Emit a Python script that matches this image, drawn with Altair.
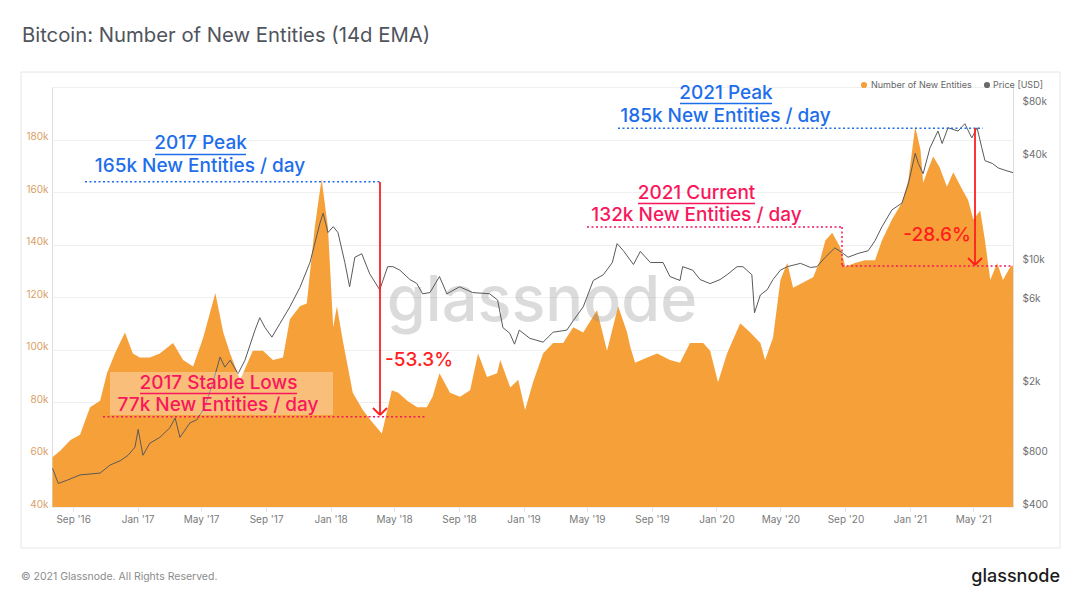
import altair as alt
import pandas as pd

# ---------------- data ----------------
ent_dates = [
    "2016-07-24", "2016-08-08", "2016-08-27", "2016-09-14", "2016-10-03", "2016-10-22",
    "2016-11-04", "2016-11-19", "2016-12-08", "2016-12-23", "2017-01-05", "2017-01-24",
    "2017-02-12", "2017-03-09", "2017-03-28", "2017-04-16", "2017-05-05", "2017-05-28",
    "2017-06-12", "2017-06-25", "2017-07-14", "2017-08-07", "2017-08-26", "2017-09-14",
    "2017-10-03", "2017-10-16", "2017-11-04", "2017-11-17", "2017-12-02", "2017-12-15",
    "2017-12-27", "2018-01-06", "2018-01-13", "2018-01-24", "2018-02-12", "2018-03-03",
    "2018-03-22", "2018-04-08", "2018-04-27", "2018-05-09", "2018-05-26", "2018-06-14",
    "2018-07-02", "2018-07-13", "2018-07-26", "2018-08-15", "2018-09-03", "2018-09-22",
    "2018-10-07", "2018-10-24", "2018-11-12", "2018-11-18", "2018-12-07", "2018-12-22",
    "2019-01-04", "2019-01-19", "2019-02-07", "2019-02-26", "2019-03-17", "2019-04-05",
    "2019-04-24", "2019-05-20", "2019-06-08", "2019-06-29", "2019-07-16", "2019-07-22",
    "2019-07-31", "2019-08-23", "2019-09-11", "2019-10-05", "2019-10-24", "2019-11-12",
    "2019-12-07", "2019-12-20", "2020-01-04", "2020-01-21", "2020-02-15", "2020-03-05",
    "2020-03-24", "2020-04-02", "2020-04-17", "2020-05-01", "2020-05-14", "2020-05-25",
    "2020-06-13", "2020-07-02", "2020-07-15", "2020-07-25", "2020-08-07", "2020-08-22",
    "2020-09-01", "2020-09-19", "2020-10-08", "2020-10-27", "2020-11-09", "2020-11-28",
    "2020-12-17", "2020-12-29", "2021-01-11", "2021-01-21", "2021-01-26", "2021-02-04",
    "2021-02-14", "2021-02-26", "2021-03-12", "2021-03-24", "2021-04-10", "2021-04-21",
    "2021-05-01", "2021-05-14", "2021-05-23", "2021-06-02", "2021-06-15", "2021-06-26",
    "2021-07-10", "2021-07-15",
]
ent_values_k = [
    59, 61.5, 65.5, 67.5, 78, 80.5,
    91, 98.5, 106.5, 98.5, 97, 97,
    98.5, 102.5, 96, 93.5, 104.5, 121.5,
    106.5, 98.5, 88.5, 99.5, 99.5, 96,
    97, 111.5, 116.5, 117.5, 146.5, 165,
    146.5, 108.5, 116.5, 103.5, 83.5, 77,
    72, 68, 84.5, 83.5, 80.5, 78,
    78, 82, 91, 83.5, 82, 84.5,
    98.5, 89.5, 91, 96, 85.5, 88.5,
    77, 87.5, 98.5, 102.5, 102.5, 108.5,
    106.5, 115, 99.5, 116.5, 106.5, 101,
    95, 97, 98.5, 96, 95, 102.5,
    102.5, 99.5, 87.5, 98.5, 110, 106.5,
    102.5, 96, 104.5, 126.5, 133, 123.5,
    125.5, 127.5, 134, 141.5, 144.5, 139,
    131.5, 133, 134, 134, 141.5, 149.5,
    156, 164.5, 185, 176, 163.5, 168.5,
    173.5, 169.5, 162, 167.5, 161, 157,
    149.5, 153, 141.5, 126.5, 133, 126.5,
    131.5, 132,
]

price_dates = [
    "2016-07-24", "2016-08-04", "2016-08-21", "2016-09-14", "2016-10-22", "2016-11-10",
    "2016-11-29", "2016-12-14", "2016-12-27", "2017-01-02", "2017-01-11", "2017-01-24",
    "2017-02-12", "2017-03-03", "2017-03-13", "2017-03-22", "2017-04-10", "2017-04-23",
    "2017-05-08", "2017-05-23", "2017-06-06", "2017-06-15", "2017-06-25", "2017-07-10",
    "2017-07-23", "2017-08-11", "2017-08-20", "2017-08-30", "2017-09-12", "2017-09-27",
    "2017-10-16", "2017-11-04", "2017-11-23", "2017-12-12", "2017-12-18", "2017-12-27",
    "2018-01-06", "2018-01-15", "2018-01-28", "2018-02-06", "2018-02-16", "2018-03-01",
    "2018-03-16", "2018-04-04", "2018-04-19", "2018-04-29", "2018-05-12", "2018-05-31",
    "2018-06-13", "2018-06-24", "2018-07-08", "2018-07-26", "2018-08-09", "2018-09-02",
    "2018-09-27", "2018-10-29", "2018-11-13", "2018-11-23", "2018-12-06", "2018-12-15",
    "2018-12-24", "2019-01-13", "2019-02-07", "2019-02-26", "2019-03-24", "2019-04-05",
    "2019-04-24", "2019-05-13", "2019-06-01", "2019-06-18", "2019-06-27", "2019-07-09",
    "2019-07-28", "2019-08-10", "2019-08-29", "2019-09-22", "2019-10-05", "2019-10-24",
    "2019-10-29", "2019-11-17", "2019-12-01", "2019-12-20", "2020-01-08", "2020-01-21",
    "2020-02-09", "2020-02-20", "2020-03-08", "2020-03-13", "2020-03-24", "2020-04-06",
    "2020-04-17", "2020-05-01", "2020-05-14", "2020-06-08", "2020-06-27", "2020-07-09",
    "2020-07-25", "2020-08-12", "2020-08-26", "2020-09-06", "2020-09-25", "2020-10-14",
    "2020-10-27", "2020-11-09", "2020-11-28", "2020-12-17", "2020-12-29", "2021-01-11",
    "2021-01-17", "2021-01-26", "2021-02-08", "2021-02-23", "2021-03-03", "2021-03-14",
    "2021-04-02", "2021-04-15", "2021-04-28", "2021-05-08", "2021-05-17", "2021-05-23",
    "2021-06-06", "2021-06-17", "2021-06-30", "2021-07-15",
]
price_values = [
    665, 545, 570, 610, 625, 695,
    735, 790, 880, 1110, 790, 925,
    1000, 1135, 1290, 1000, 1210, 1260,
    1490, 2040, 2880, 2520, 2760, 2310,
    2760, 4100, 4830, 4240, 3740, 4460,
    5570, 7190, 9980, 16800, 19100, 14800,
    16000, 14800, 9980, 7250, 10700, 11200,
    8600, 6970, 9450, 9450, 9030, 7980,
    7580, 6615, 6720, 8300, 6615, 7250,
    6720, 6615, 6090, 4240, 3930, 3410,
    4100, 3680, 3500, 3990, 4100, 4640,
    5570, 7880, 8500, 9980, 12800, 11650,
    9720, 11550, 9980, 9980, 8300, 7880,
    9450, 9030, 7980, 7560, 7980, 8500,
    9450, 9450, 8500, 5150, 6510, 6980,
    7980, 9030, 9450, 9870, 9350, 9450,
    10700, 12100, 11350, 10700, 11250, 11650,
    13300, 15960, 19950, 21840, 28100, 42000,
    36750, 32100, 45150, 56300, 47800, 58800,
    56300, 62000, 51450, 58800, 45150, 38100,
    36750, 34650, 33600, 32550,
]

left_ticks = [40, 60, 80, 100, 120, 140, 160, 180, 200]
right_ticks = [400, 800, 2000, 6000, 10000, 40000, 80000]
month_ticks = [(2016, 9), (2017, 1), (2017, 5), (2017, 9), (2018, 1), (2018, 5),
               (2018, 9), (2019, 1), (2019, 5), (2019, 9), (2020, 1), (2020, 5),
               (2020, 9), (2021, 1), (2021, 5)]

ent_df = pd.DataFrame({"date": ent_dates, "entities": ent_values_k})
price_df = pd.DataFrame({"date": price_dates, "price": price_values})
dummy = pd.DataFrame({"k": [0]})

# ---------------- styles ----------------
FONT = "Inter"
ORANGE = "#F6A03A"
BLUE = "#1E6EEB"
PINK = "#F8175C"
RED = "#FF1E1E"
ASIZE = 19
W, H = 961, 420

x_enc = alt.X(
    "date:T",
    scale=alt.Scale(type="utc",
                    domain=[alt.DateTime(year=2016, month=7, date=23, utc=True),
                            alt.DateTime(year=2021, month=7, date=15, utc=True)]),
    axis=alt.Axis(
        values=[alt.DateTime(year=y, month=m, date=1, utc=True) for y, m in month_ticks],
        format="%b '%y", labelFont=FONT, labelFontSize=10, labelColor="#7a7a7a",
        tickColor="#e2e2e2", tickSize=4, domain=False, grid=False, labelPadding=3,
        labelFlush=False, labelOverlap=False, title=None),
)

area = alt.Chart(ent_df).mark_area(color=ORANGE, interpolate="linear", opacity=1).encode(
    x=x_enc,
    y=alt.Y("entities:Q",
            scale=alt.Scale(domain=[40, 200], nice=False, zero=False),
            axis=alt.Axis(values=left_ticks,
                          labelExpr="datum.value >= 200 ? '' : datum.value + 'k'",
                          labelFont=FONT, labelFontSize=10, labelColor="#D9A066",
                          ticks=False, domain=False, gridColor="#efefef", labelPadding=4,
                          labelBaseline="alphabetic", labelFlush=False, title=None)),
    y2=alt.datum(40),
)

watermark = alt.Chart(dummy).mark_text(
    text="glassnode", font=FONT, fontSize=63, fontWeight=500, color="#8a8a8a",
    opacity=0.3, align="center", baseline="alphabetic"
).encode(x=alt.value(490), y=alt.value(234))

base = alt.layer(area, watermark)

price = alt.Chart(price_df).mark_line(color="#5a5a5a", strokeWidth=1).encode(
    x="date:T",
    y=alt.Y("price:Q",
            scale=alt.Scale(type="log", domain=[400, 100500], nice=False),
            axis=alt.Axis(orient="right", values=right_ticks,
                          labelExpr="datum.value >= 1000 ? '$' + (datum.value / 1000) + 'k' : '$' + datum.value",
                          labelFont=FONT, labelFontSize=10, labelColor="#6f6f6f",
                          ticks=False, domain=False, grid=False, labelPadding=9,
                          labelBaseline="alphabetic", labelFlush=False, title=None)),
)


def hrule(x1, x2, y, color, dash=None, width=1.5):
    kw = dict(color=color, strokeWidth=width)
    if dash:
        kw["strokeDash"] = dash
    return alt.Chart(dummy).mark_rule(**kw).encode(
        x=alt.value(x1), x2=alt.value(x2), y=alt.value(y))


def vrule(x, y1, y2, color, dash=None, width=1.5):
    kw = dict(color=color, strokeWidth=width)
    if dash:
        kw["strokeDash"] = dash
    return alt.Chart(dummy).mark_rule(**kw).encode(
        x=alt.value(x), y=alt.value(y1), y2=alt.value(y2))


def seg(x1, y1, x2, y2, color, width=1.8):
    return alt.Chart(dummy).mark_rule(color=color, strokeWidth=width).encode(
        x=alt.value(x1), x2=alt.value(x2), y=alt.value(y1), y2=alt.value(y2))


def txt(s, x, y, color, size=ASIZE, weight=500, align="center", baseline="middle", font=FONT, opacity=1):
    return alt.Chart(dummy).mark_text(
        text=s, font=font, fontSize=size, fontWeight=weight, color=color,
        align=align, baseline=baseline, opacity=opacity
    ).encode(x=alt.value(x), y=alt.value(y))


DOT = [2, 2.5]
annots = [
    # page / card decoration
    alt.Chart(dummy).mark_rect(filled=False, color="#e6e6e6", strokeWidth=1).encode(
        x=alt.value(-31), x2=alt.value(1008), y=alt.value(-15), y2=alt.value(461)),
    txt("Bitcoin: Number of New Entities (14d EMA)", -30, -51, "#50545d", size=20.3, weight=400, align="left"),
    txt("© 2021 Glassnode. All Rights Reserved.", -31, 490, "#8c8c8c", size=10.5, weight=400, align="left"),
    txt("glassnode", 1008, 490, "#1c1c1c", size=18, weight=500, align="right"),
    # legend
    alt.Chart(dummy).mark_circle(color=ORANGE, size=38, opacity=1).encode(x=alt.value(812), y=alt.value(-2)),
    txt("Number of New Entities", 819, -2, "#666666", size=9, weight=400, align="left"),
    alt.Chart(dummy).mark_circle(color="#6a6a6a", size=38, opacity=1).encode(x=alt.value(935), y=alt.value(-2)),
    txt("Price [USD]", 941, -2, "#666666", size=9, weight=400, align="left"),
    # 2017 stable lows box
    alt.Chart(dummy).mark_rect(color="white", opacity=0.33).encode(
        x=alt.value(58), x2=alt.value(281), y=alt.value(285), y2=alt.value(328)),
    # 2017 peak
    txt("2017 Peak", 148.5, 56, BLUE),
    hrule(103, 194, 67.5, BLUE, width=1.6),
    txt("165k New Entities / day", 148, 79, BLUE),
    hrule(33, 328, 94.7, BLUE, dash=DOT),
    vrule(328, 95, 328, RED, width=1.8),
    seg(321, 321, 328, 328, RED),
    seg(335, 321, 328, 328, RED),
    txt("-53.3%", 333, 273, RED, align="left"),
    # 2017 stable lows
    txt("2017 Stable Lows", 166.5, 296, PINK),
    hrule(88, 245, 306.5, PINK, width=1.6),
    txt("77k New Entities / day", 166, 318, PINK),
    hrule(51, 373, 329.7, PINK, dash=DOT),
    # 2021 peak
    txt("2021 Peak", 674, 6, BLUE),
    hrule(628, 720, 16.5, BLUE, width=1.6),
    txt("185k New Entities / day", 673.5, 29, BLUE),
    hrule(566, 931, 41.3, BLUE, dash=DOT),
    vrule(923, 41, 178, RED, width=1.8),
    seg(916, 171, 923, 178, RED),
    seg(930, 171, 923, 178, RED),
    txt("-28.6%", 885, 148, RED),
    # 2021 current
    txt("2021 Current", 644.5, 106, PINK),
    hrule(586, 703, 116.5, PINK, width=1.6),
    txt("132k New Entities / day", 644.5, 128, PINK),
    hrule(535, 790, 140, PINK, dash=DOT),
    vrule(790, 140, 179, PINK, dash=DOT),
    hrule(790, 961, 179, PINK, dash=DOT),
]

main = alt.layer(base, price).resolve_scale(y="independent")
chart = alt.layer(main, *annots).properties(
    width=W, height=H,
    padding={"left": 44, "top": 79, "right": 59, "bottom": 92},
    autosize=alt.AutoSizeParams(type="none"),
).configure_view(stroke=None).configure(background="white")

chart.save("out.html", embed_options={"renderer": "svg", "actions": False})
